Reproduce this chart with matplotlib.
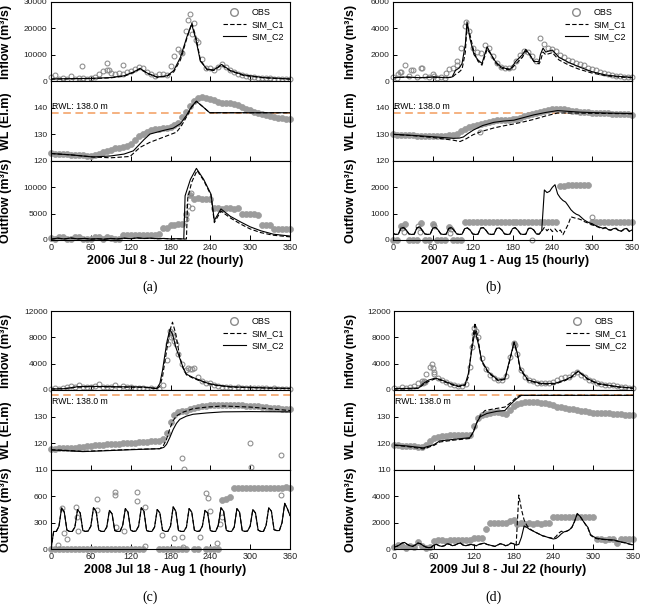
import numpy as np
import matplotlib
matplotlib.use('Agg')
import matplotlib.pyplot as plt
from matplotlib.lines import Line2D

plt.rcParams['font.family'] = ['Liberation Sans', 'DejaVu Sans']

t4 = np.arange(0, 361, 4)
t6 = np.arange(0, 361, 6)

# ---------------- (a) 2006 ----------------
obs_in_a = [1500, 2200, 800, 1200, 600, 1800, 900, 1300, 1000, 700,
            1000, 1500, 2500, 3800, 4200, 3200, 2600, 3000, 2800, 3300,
            3800, 4500, 5200, 5000, 3500, 2500, 2000, 2800, 2600, 2400,
            5800, 9500, 12000, 10500, 19000, 25500, 22000, 15000, 8500, 5000,
            4800, 4300, 5500, 6300, 5500, 4200, 3300, 2800, 2300, 1900,
            1700, 1500, 1300, 1200, 1100, 1000, 900, 900, 800, 800, 800]
ext_in_a_t = [46, 85, 88, 109, 196, 207, 213, 219]
ext_in_a_v = [5800, 6800, 4200, 6000, 11000, 23000, 18000, 15500]
sim_in_a_t = [0, 30, 60, 90, 110, 125, 134, 145, 160, 175, 185, 195, 205, 212,
              218, 225, 235, 245, 257, 270, 290, 320, 360]
c1_in_a = [700, 800, 900, 1200, 1800, 3300, 4600, 2900, 1400, 1800, 3500, 8000,
           16500, 22000, 17000, 8000, 4300, 4000, 6000, 3800, 2100, 1200, 700]
c2_in_a = [800, 900, 1000, 1300, 2000, 3500, 4800, 3000, 1500, 2000, 4000, 9000,
           17000, 21500, 16000, 7500, 4500, 4200, 6300, 4000, 2300, 1300, 800]

obs_wl_a = [122.9, 122.8, 122.7, 122.6, 122.5, 122.4, 122.3, 122.2, 122.1, 122.0,
            122.0, 122.1, 122.6, 123.2, 123.8, 124.3, 124.7, 125.0, 125.3, 125.6,
            126.3, 127.8, 129.2, 130.3, 131.0, 131.5, 131.9, 132.1, 132.3, 132.5,
            132.7, 133.5, 134.3, 136.5, 138.4, 140.5, 142.6, 143.8, 144.1, 143.8,
            143.3, 142.7, 142.2, 141.9, 141.8, 141.7, 141.5, 141.0, 140.3, 139.6,
            139.0, 138.5, 138.1, 137.7, 137.3, 137.0, 136.6, 136.3, 136.0, 135.8, 135.6]
c1_wl_a_t = [0, 30, 64, 90, 119, 134, 149, 170, 189, 196, 204, 212, 219, 229, 239, 360]
c1_wl_a = [122.8, 122.3, 121.5, 121.2, 121.7, 125.1, 127.0, 129.0, 130.8, 133.0,
           136.5, 140.2, 142.4, 140.3, 138.1, 138.1]
c2_wl_a_t = [0, 30, 64, 90, 110, 124, 140, 149, 170, 184, 195, 204, 212, 219, 229, 239, 360]
c2_wl_a = [122.8, 122.3, 121.5, 121.9, 122.6, 123.8, 128.0, 130.1, 131.5, 132.3,
           134.0, 137.1, 140.5, 142.4, 140.3, 138.1, 138.1]

obs_out_a = [300, 200, 600, 500, 200, 150, 600, 500, 250, 200,
             250, 600, 550, 200, 600, 300, 150, 200, 900, 950,
             950, 1000, 950, 950, 1000, 950, 1000, 1100, 2200, 2300,
             2800, 2800, 3000, 3000, 5000, 8500, 7800, 7900, 7800, 7800,
             7700, 6000, 6000, 5900, 6000, 6000, 5900, 6000, 4900, 4900,
             5000, 4900, 4800, 2900, 2800, 2800, 2000, 2000, 2000, 2000, 2000]
ext_out_a_t = [203, 207, 211, 213]
ext_out_a_v = [4000, 6500, 9000, 6000]
c1_out_a_t = [0, 10, 20, 30, 40, 50, 60, 70, 80, 90, 100, 110, 120, 130, 140, 150,
              160, 170, 180, 190, 200, 204, 206, 212, 220, 230, 241, 246, 256, 270,
              286, 300, 316, 335, 360]
c1_out_a = [150, 330, 220, 360, 200, 320, 170, 230, 160, 280, 220, 330, 230, 380,
            280, 330, 230, 280, 220, 230, 180, 200, 8000, 11000, 13200, 11300, 8500,
            3300, 5500, 4200, 3000, 2100, 1400, 900, 600]
c2_out_a_t = [0, 10, 20, 30, 40, 50, 60, 70, 80, 90, 100, 110, 120, 130, 140, 150,
              160, 170, 180, 190, 200, 202, 210, 219, 230, 241, 246, 256, 270, 286,
              300, 316, 335, 360]
c2_out_a = [150, 350, 200, 380, 220, 300, 180, 250, 150, 300, 200, 350, 250, 400,
            300, 350, 250, 300, 200, 250, 200, 8400, 11500, 13600, 11500, 8700, 3700,
            5900, 4500, 3400, 2500, 1750, 1100, 750]

# ---------------- (b) 2007 ----------------
obs_in_b = [300, 200, 700, 1200, 400, 800, 300, 1000, 400, 300,
            500, 200, 300, 200, 900, 1000, 1500, 2500, 4200, 3800,
            2500, 2200, 2100, 2700, 2500, 1900, 1400, 1100, 1000, 950,
            1100, 1500, 2000, 2300, 2200, 1900, 1500, 3300, 2800, 2500,
            2400, 2300, 2000, 1800, 1600, 1500, 1400, 1300, 1200, 1000,
            900, 800, 700, 600, 500, 450, 400, 350, 320, 300, 280]
ext_in_b_t = [8, 10, 27, 44, 62, 80, 96, 110]
ext_in_b_v = [500, 700, 800, 1000, 400, 600, 1200, 4500]
sim_in_b_t = [0, 20, 40, 60, 80, 89, 94, 100, 104, 109, 111.5, 116, 122, 128, 134,
              141.7, 148, 154, 162, 169, 177, 185, 195, 200, 206, 212, 220, 222, 226,
              230, 240, 250, 265, 280, 300, 321, 340, 360]
c1_in_b = [250, 300, 250, 300, 250, 280, 500, 700, 900, 2200, 4300, 3500, 2200, 1500,
           1200, 2400, 2000, 1400, 1000, 900, 850, 1300, 1800, 2300, 2000, 1500, 1300,
           1500, 2200, 2000, 2150, 1600, 1200, 900, 600, 400, 300, 250]
c2_in_b = [250, 300, 250, 300, 250, 300, 800, 1000, 1330, 2800, 4500, 3200, 2000, 1600,
           1330, 2600, 2000, 1500, 1100, 960, 900, 1500, 2000, 2400, 2000, 1500, 1460,
           2000, 2500, 2200, 2350, 1800, 1400, 1080, 700, 450, 350, 280]

obs_wl_b = [130.0, 129.9, 129.8, 129.7, 129.6, 129.6, 129.5, 129.5, 129.4, 129.4,
            129.4, 129.4, 129.4, 129.5, 129.6, 129.8, 130.3, 131.2, 132.0, 132.6,
            133.0, 133.5, 134.0, 134.4, 134.7, 135.0, 135.2, 135.3, 135.4, 135.5,
            135.6, 135.9, 136.3, 136.7, 137.1, 137.5, 137.9, 138.3, 138.7, 139.1,
            139.4, 139.5, 139.5, 139.4, 139.2, 138.9, 138.7, 138.5, 138.3, 138.2,
            138.1, 138.0, 138.0, 137.9, 137.9, 137.8, 137.8, 137.7, 137.6, 137.5, 137.4]
ext_wl_b_t = [131]
ext_wl_b_v = [130.8]
c1_wl_b_t = [0, 30, 60, 91, 101, 110, 121, 135, 152, 167, 182, 197, 212, 230, 248, 270, 300, 360]
c1_wl_b = [130.0, 129.5, 128.8, 127.8, 127.3, 128.3, 129.9, 131.2, 132.4, 133.2,
           133.9, 134.7, 135.6, 136.9, 138.0, 138.0, 137.9, 137.7]
c2_wl_b_t = [0, 30, 60, 91, 100, 106, 113, 121, 135, 152, 167, 182, 197, 212, 230,
             248, 265, 283, 320, 360]
c2_wl_b = [130.0, 129.6, 129.1, 128.5, 128.6, 129.0, 130.3, 131.6, 133.3, 134.5,
           135.0, 135.3, 136.3, 137.3, 138.2, 138.9, 138.6, 138.3, 138.0, 137.8]

obs_out_b = [0, 0, 550, 600, 0, 0, 0, 650, 0, 0,
             600, 0, 0, 0, 500, 0, 0, 0, 700, 690,
             690, 700, 690, 690, 690, 700, 690, 690, 690, 690,
             700, 690, 690, 690, 690, 690, 690, 690, 700, 690,
             690, 690, 2050, 2050, 2080, 2100, 2100, 2080, 2100, 2080,
             690, 700, 690, 690, 690, 690, 690, 700, 690, 690, 690]
ext_out_b_t = [14, 16, 38, 40, 62, 86, 88, 209, 299]
ext_out_b_v = [450, 300, 550, 300, 550, 250, 400, 0, 870]
# both simulations share the daily release cycle up to t = 212 h (4-hourly)
low_out_b = [250, 210, 220, 450, 470, 380, 230, 210, 220, 460, 500, 370,
             230, 210, 220, 450, 480, 380, 230, 210, 220, 440, 470, 370,
             230, 210, 220, 430, 460, 380, 230, 210, 220, 450, 470, 370,
             230, 210, 220, 440, 460, 380, 230, 210, 220, 430, 470, 370,
             230, 210, 220, 440, 450, 380]
c1_out_b_tail = [230, 220, 330, 480, 350, 450, 320, 420, 300, 380, 200, 400, 600, 880,
                 850, 820, 800, 760, 700, 660, 620, 580, 540, 500, 460, 430, 460, 390,
                 370, 420, 430, 350, 330, 400, 420, 320, 370]
c2_out_b_tail = [230, 220, 350, 1900, 1800, 1850, 2000, 2100, 1750, 1600, 1500, 1440,
                 1300, 1150, 1050, 980, 940, 850, 760, 700, 650, 620, 560, 520, 480,
                 450, 480, 400, 380, 430, 450, 360, 340, 420, 440, 330, 380]

# ---------------- (c) 2008 ----------------
obs_in_c = [200, 300, 150, 250, 400, 600, 500, 700, 400, 500,
            450, 600, 900, 500, 400, 450, 700, 300, 550, 500,
            450, 300, 250, 300, 200, 250, 200, 150, 800, 4500,
            8000, 7500, 5500, 4000, 3100, 3200, 3300, 2000, 1400, 1100,
            1000, 700, 600, 500, 450, 400, 350, 400, 300, 350,
            300, 280, 250, 300, 250, 200, 250, 200, 200, 150, 150]
ext_in_c_t = [176, 179, 182, 184, 188, 207, 213]
ext_in_c_v = [7000, 9000, 8600, 8200, 7000, 3300, 3200]
sim_in_c_t = [0, 20, 40, 60, 100, 140, 155, 159, 164, 168, 171, 175, 179, 183, 188,
              194, 199, 204, 214, 224, 237, 249, 270, 300, 330, 360]
c1_in_c = [150, 200, 450, 500, 450, 400, 250, 150, 600, 2000, 4000, 6500, 9000, 10300,
           8500, 5000, 3300, 2300, 1800, 1400, 950, 700, 450, 350, 280, 220]
c2_in_c = [150, 200, 500, 550, 500, 450, 300, 200, 1000, 3000, 5000, 7500, 9160, 8500,
           6500, 4800, 3400, 2400, 1900, 1500, 1000, 750, 500, 400, 300, 250]

obs_wl_c = [117.9, 118.0, 118.1, 118.2, 118.2, 118.3, 118.3, 118.5, 118.7, 118.9,
            119.0, 119.2, 119.3, 119.5, 119.6, 119.7, 119.8, 119.9, 120.0, 120.1,
            120.2, 120.3, 120.4, 120.5, 120.6, 120.7, 120.8, 120.9, 121.6, 124.0,
            128.0, 130.8, 131.8, 132.1, 132.3, 132.8, 133.3, 133.6, 133.9, 134.1,
            134.3, 134.4, 134.5, 134.5, 134.5, 134.4, 134.3, 134.3, 134.2, 134.1,
            134.0, 134.0, 133.9, 133.8, 133.6, 133.4, 133.3, 133.1, 133.0, 132.8, 132.7]
ext_wl_c_t = [198, 200, 299, 301, 347]
ext_wl_c_v = [114.5, 110.3, 120.2, 111.0, 115.8]
c1_wl_c_t = [0, 20, 48, 80, 120, 164, 169, 174, 179, 184, 189, 199, 214, 235, 259, 300, 360]
c1_wl_c = [117.6, 117.4, 117.0, 117.3, 117.7, 118.0, 119.0, 121.5, 125.5, 128.5,
           130.3, 131.7, 133.0, 133.6, 134.0, 133.6, 132.3]
c2_wl_c_t = [0, 20, 48, 80, 120, 164, 170, 174, 179, 184, 189, 194, 204, 214, 235,
             259, 300, 360]
c2_wl_c = [117.5, 117.3, 116.9, 117.2, 117.6, 118.0, 118.5, 119.6, 122.2, 125.2,
           127.5, 129.0, 130.2, 130.9, 131.4, 131.8, 131.9, 131.8]

nan = np.nan
obs_out_c = [0, 0, 0, 0, 0, 0, 0, 0, 0, 0,
             0, 0, 0, 0, 0, 0, 0, 0, 0, 0,
             0, 0, 0, 0, nan, nan, nan, 0, 0, 0,
             0, 0, 0, 0, 0, nan, 0, 0, nan, 0,
             0, 0, 0, 560, 575, 590, 690, 690, 700, 690,
             690, 700, 690, 700, 700, 700, 700, 700, 700, 710, 700]
ext_out_c_t = [11, 16, 20, 24, 38, 39, 41, 69, 70, 96, 97, 98, 110, 129, 130, 142, 142,
               167, 185, 198, 199, 224, 234, 237, 239, 250, 254, 257, 347]
ext_out_c_v = [40, 470, 180, 110, 480, 360, 200, 570, 450, 650, 620, 250, 200, 650,
               545, 480, 30, 160, 130, 140, 20, 140, 640, 580, 430, 70, 290, 370, 620]
sim_out_c = [0, 200, 200, 260, 470, 420, 215, 200, 200, 250, 450, 410,
             210, 200, 205, 260, 470, 430, 215, 200, 200, 250, 440, 400,
             210, 200, 200, 270, 460, 420, 215, 200, 205, 260, 470, 430,
             210, 200, 200, 250, 450, 410, 215, 200, 200, 260, 480, 430,
             210, 200, 200, 250, 460, 420, 215, 200, 205, 260, 440, 410,
             210, 200, 200, 270, 470, 430, 215, 200, 200, 250, 460, 420,
             210, 200, 205, 260, 450, 410, 215, 200, 200, 270, 470, 430,
             220, 210, 210, 300, 520, 460, 380]

# ---------------- (d) 2009 ----------------
obs_in_d = [300, 200, 400, 300, 500, 600, 1000, 1300, 2500, 3500,
            2500, 1800, 1500, 1200, 900, 700, 600, 600, 900, 3500,
            8500, 8000, 4800, 3200, 2300, 1800, 1500, 1500, 2200, 5000,
            7000, 5500, 3000, 2000, 1500, 1300, 1100, 1000, 1000, 1000,
            1200, 1500, 1800, 1900, 2000, 2400, 2800, 2300, 1900, 1500,
            1300, 1100, 900, 800, 800, 700, 600, 500, 400, 300, 250]
ext_in_d_t = [44, 45, 47, 57, 58, 61, 118, 121, 123, 180, 182]
ext_in_d_v = [1000, 1400, 1200, 3900, 3400, 2800, 6500, 9400, 9000, 7200, 6800]
sim_in_d_t = [0, 20, 37, 44, 52, 62, 70, 77, 90, 97, 107, 112, 117, 122, 127, 132, 142,
              157, 167, 174, 181, 186, 190, 202, 222, 242, 257, 267, 277, 285, 292,
              307, 337, 360]
c1_in_d = [150, 200, 250, 800, 1300, 1700, 1500, 1200, 700, 500, 700, 2000, 6500, 10200,
           7500, 4300, 2600, 1400, 1600, 4300, 7200, 5300, 3100, 1400, 900, 900, 1400,
           1900, 2800, 2200, 1600, 900, 450, 250]
c2_in_d = [200, 250, 300, 1000, 1500, 1800, 1600, 1300, 800, 600, 800, 2500, 6000, 9050,
           7000, 4500, 2750, 1500, 1700, 4500, 7300, 5500, 3300, 1500, 1000, 1000, 1500,
           2000, 2870, 2300, 1700, 1000, 500, 300]

obs_wl_d = [119.2, 119.2, 119.1, 119.0, 118.9, 118.9, 118.8, 118.7, 119.3, 120.8,
            121.9, 122.5, 122.8, 122.9, 123.0, 123.0, 123.0, 123.1, 123.1, 123.2,
            126.5, 129.5, 130.7, 131.1, 131.4, 131.6, 131.7, 131.4, 131.1, 132.5,
            134.0, 134.8, 135.2, 135.5, 135.5, 135.5, 135.4, 135.3, 135.0, 134.6,
            134.2, 133.8, 133.5, 133.2, 133.0, 132.7, 132.4, 132.2, 132.0, 131.7,
            131.4, 131.4, 131.4, 131.4, 131.3, 131.1, 131.0, 130.9, 130.8, 130.7, 130.6]
c1_wl_d_t = [0, 20, 44, 60, 69, 90, 114, 119, 124, 130, 137, 150, 167, 177, 185, 190, 360]
c1_wl_d = [119.3, 118.8, 117.9, 119.2, 120.5, 121.2, 121.8, 124.0, 127.3, 130.5,
           132.3, 132.9, 133.6, 135.5, 137.4, 138.0, 138.0]
c2_wl_d_t = [0, 20, 44, 60, 69, 90, 114, 120, 125, 130, 140, 155, 167, 175, 185, 192, 360]
c2_wl_d = [119.4, 119.0, 118.3, 119.5, 120.9, 121.5, 122.1, 124.5, 128.0, 130.0,
           131.2, 132.0, 132.3, 134.5, 136.8, 138.0, 138.0]

obs_out_d = [150, 300, 200, 100, 250, 150, 500, 200, 100, 150,
             600, 650, 650, 640, 650, 660, 650, 700, 650, 700,
             800, 800, 820, 1500, 2000, 1950, 2000, 1950, 2000, 2150,
             2200, 1900, 1950, 1900, 1950, 1900, 1950, 1900, 1950, 1950,
             2450, 2450, 2400, 2450, 2450, 2400, 2450, 2450, 2450, 2450,
             2400, 750, 750, 700, 750, 750, 450, 750, 750, 750, 750]
# shared by both simulations up to t = 184 h (4-hourly)
low_out_d = [150, 200, 300, 450, 500, 350, 250, 200, 300, 450, 400, 250,
             150, 100, 120, 300, 350, 250, 200, 250, 400, 350, 250, 300,
             400, 450, 300, 250, 300, 350, 300, 250, 350, 400, 450, 350,
             300, 250, 200, 300, 400, 350, 250, 300, 450, 400, 300]
c1_out_d_tail = [4100, 3000, 2200, 1800, 1550, 1420, 1300, 1200, 1100, 1000,
                 950, 880, 850, 800, 950, 1200, 1350, 1300, 1350, 1450,
                 1650, 2100, 2650, 2500, 2200, 1900, 1600, 1050, 900, 800,
                 760, 740, 720, 700, 690, 680, 650, 600, 540, 500, 460, 400, 350, 300]
c2_out_d_tail = [350, 900, 1750, 1650, 1500, 1400, 1300, 1200, 1100, 1000,
                 950, 880, 820, 760, 800, 950, 1150, 1300, 1350, 1450,
                 1650, 2100, 2700, 2500, 2200, 1900, 1650, 1100, 950, 850,
                 800, 760, 740, 720, 700, 690, 680, 620, 560, 520, 480, 420, 360, 320]

RWL = 138.0
BAND = '#9c9c9c'
RING = '#8a8a8a'
ORANGE = '#f29c5e'
W, H = 647, 606

fig = plt.figure(figsize=(W / 100, H / 100), dpi=100)


def box(x0, x1, top, bot):
    return [x0 / W, 1 - bot / H, (x1 - x0) / W, (bot - top) / H]


def obs(ax, t, v, band=True):
    if band:
        ax.plot(t, v, ls='none', marker='o', ms=4.3, mfc=BAND, mec=BAND, mew=0.5,
                clip_on=False, zorder=2)
    else:
        ax.plot(t, v, ls='none', marker='o', ms=3.5, mfc='none', mec=RING, mew=0.75,
                clip_on=False, zorder=2)


def sims(ax, c1t, c1v, c2t, c2v):
    ax.plot(c1t, c1v, color='k', lw=0.8, dashes=(4, 2), zorder=3)
    ax.plot(c2t, c2v, color='k', lw=0.8, zorder=3)


def style(ax, ylim, yticks, ylabel, lx, bottom=False):
    ax.set_xlim(0, 360)
    ax.set_ylim(*ylim)
    ax.set_xticks(range(0, 361, 60))
    ax.set_yticks(yticks)
    ax.tick_params(direction='in', length=3.5, width=0.7, labelsize=6.5,
                   labelcolor='#222222', pad=2.5)
    ax.tick_params(axis='y', labelsize=6, length=3)
    ax.tick_params(axis='x', labelbottom=bottom)
    for s in ax.spines.values():
        s.set_linewidth(0.8)
    ax.set_ylabel(ylabel, fontsize=9, fontweight='bold')
    ax.yaxis.set_label_coords(lx, 0.5)


def rwl(ax, ytext):
    ax.axhline(RWL, color=ORANGE, lw=1.1, dashes=(5, 3), zorder=1.5)
    ax.text(2, ytext, 'RWL: 138.0 m', fontsize=6.3, ha='left', va='center')


def legend(ax):
    handles = [Line2D([], [], ls='none', marker='o', ms=5.5, mfc='none', mec=RING, mew=1.0),
               Line2D([], [], color='k', lw=0.8, dashes=(4, 2)),
               Line2D([], [], color='k', lw=0.8)]
    ax.legend(handles, ['OBS', 'SIM_C1', 'SIM_C2'], loc='upper right', frameon=False,
              fontsize=6.5, handlelength=2.6, handletextpad=0.6, labelspacing=0.35,
              borderaxespad=0.25)


rows_top = [(2, 81), (81, 161), (161, 240)]
rows_bot = [(311, 390), (390, 470), (470, 549)]

# ----- (a) -----
x0, x1, lx = 51, 290, -0.163
ax = fig.add_axes(box(x0, x1, *rows_top[0]))
obs(ax, t6, obs_in_a, band=False)
obs(ax, ext_in_a_t, ext_in_a_v, band=False)
sims(ax, sim_in_a_t, c1_in_a, sim_in_a_t, c2_in_a)
style(ax, (0, 30000), [0, 10000, 20000, 30000], 'Inflow (m³/s)', lx)
legend(ax)
ax = fig.add_axes(box(x0, x1, *rows_top[1]))
rwl(ax, 140.6)
obs(ax, t6, obs_wl_a)
sims(ax, c1_wl_a_t, c1_wl_a, c2_wl_a_t, c2_wl_a)
style(ax, (120, 150), [120, 130, 140], 'WL (El.m)', lx)
ax = fig.add_axes(box(x0, x1, *rows_top[2]))
obs(ax, t6, obs_out_a)
obs(ax, ext_out_a_t, ext_out_a_v, band=False)
sims(ax, c1_out_a_t, c1_out_a, c2_out_a_t, c2_out_a)
style(ax, (0, 15000), [0, 5000, 10000], 'Outflow (m³/s)', lx, bottom=True)

# ----- (b) -----
x0, x1, lx = 393, 632, -0.149
ax = fig.add_axes(box(x0, x1, *rows_top[0]))
obs(ax, t6, obs_in_b, band=False)
obs(ax, ext_in_b_t, ext_in_b_v, band=False)
sims(ax, sim_in_b_t, c1_in_b, sim_in_b_t, c2_in_b)
style(ax, (0, 6000), [0, 2000, 4000, 6000], 'Inflow (m³/s)', lx)
legend(ax)
ax = fig.add_axes(box(x0, x1, *rows_top[1]))
rwl(ax, 140.6)
obs(ax, t6, obs_wl_b)
obs(ax, ext_wl_b_t, ext_wl_b_v, band=False)
sims(ax, c1_wl_b_t, c1_wl_b, c2_wl_b_t, c2_wl_b)
style(ax, (120, 150), [120, 130, 140], 'WL (El.m)', lx)
ax = fig.add_axes(box(x0, x1, *rows_top[2]))
obs(ax, t6, obs_out_b)
obs(ax, ext_out_b_t, ext_out_b_v, band=False)
sims(ax, t4, low_out_b + c1_out_b_tail, t4, low_out_b + c2_out_b_tail)
style(ax, (0, 3000), [0, 1000, 2000], 'Outflow (m³/s)', lx, bottom=True)

# ----- (c) -----
x0, x1, lx = 51, 290, -0.163
ax = fig.add_axes(box(x0, x1, *rows_bot[0]))
obs(ax, t6, obs_in_c, band=False)
obs(ax, ext_in_c_t, ext_in_c_v, band=False)
sims(ax, sim_in_c_t, c1_in_c, sim_in_c_t, c2_in_c)
style(ax, (0, 12000), [0, 4000, 8000, 12000], 'Inflow (m³/s)', lx)
legend(ax)
ax = fig.add_axes(box(x0, x1, *rows_bot[1]))
rwl(ax, 135.8)
obs(ax, t6, obs_wl_c)
obs(ax, ext_wl_c_t, ext_wl_c_v, band=False)
sims(ax, c1_wl_c_t, c1_wl_c, c2_wl_c_t, c2_wl_c)
style(ax, (110, 140), [110, 120, 130], 'WL (El.m)', lx)
ax = fig.add_axes(box(x0, x1, *rows_bot[2]))
obs(ax, t6, obs_out_c)
obs(ax, ext_out_c_t, ext_out_c_v, band=False)
sims(ax, t4, sim_out_c, t4, sim_out_c)
style(ax, (0, 900), [0, 300, 600], 'Outflow (m³/s)', lx, bottom=True)

# ----- (d) -----
x0, x1, lx = 394, 633, -0.155
ax = fig.add_axes(box(x0, x1, *rows_bot[0]))
obs(ax, t6, obs_in_d, band=False)
obs(ax, ext_in_d_t, ext_in_d_v, band=False)
sims(ax, sim_in_d_t, c1_in_d, sim_in_d_t, c2_in_d)
style(ax, (0, 12000), [0, 4000, 8000, 12000], 'Inflow (m³/s)', lx)
legend(ax)
ax = fig.add_axes(box(x0, x1, *rows_bot[1]))
rwl(ax, 135.8)
obs(ax, t6, obs_wl_d)
sims(ax, c1_wl_d_t, c1_wl_d, c2_wl_d_t, c2_wl_d)
style(ax, (110, 140), [110, 120, 130], 'WL (El.m)', lx)
ax = fig.add_axes(box(x0, x1, *rows_bot[2]))
obs(ax, t6, obs_out_d)
sims(ax, t4, low_out_d + c1_out_d_tail, t4, low_out_d + c2_out_d_tail)
style(ax, (0, 6000), [0, 2000, 4000], 'Outflow (m³/s)', lx, bottom=True)

# x labels and panel tags
xlabs = [('2006 Jul 8 - Jul 22 (hourly)', 165, 261), ('2007 Aug 1 - Aug 15 (hourly)', 505, 261),
         ('2008 Jul 18 - Aug 1 (hourly)', 165, 570), ('2009 Jul 8 - Jul 22 (hourly)', 508, 570)]
for txt, px, py in xlabs:
    fig.text(px / W, 1 - py / H, txt, fontsize=9, fontweight='bold', ha='center', va='center')
tags = [('(a)', 150, 287), ('(b)', 493, 287), ('(c)', 150, 597), ('(d)', 493, 597)]
for txt, px, py in tags:
    fig.text(px / W, 1 - py / H, txt, fontsize=10, family='Liberation Serif',
             ha='center', va='center')

fig.savefig('out.png', dpi=100)
